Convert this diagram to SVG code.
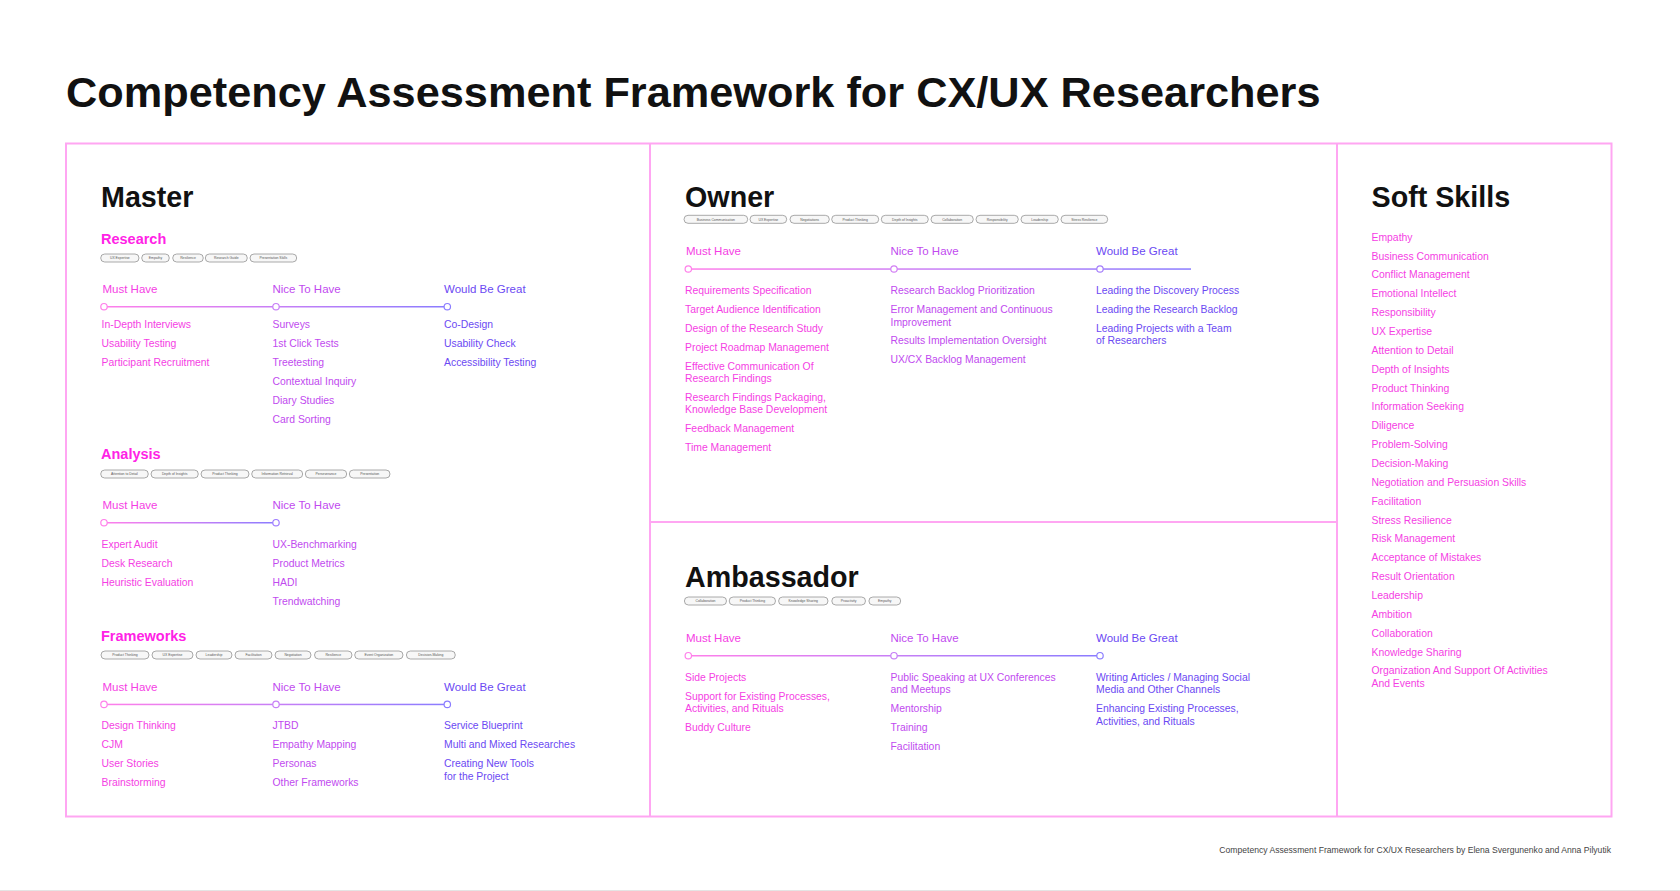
<svg xmlns="http://www.w3.org/2000/svg" width="1680" height="891" viewBox="0 0 1680 891">
<defs>
<linearGradient id="tl" x1="0" y1="0" x2="1" y2="0">
<stop offset="0" stop-color="#FF7FEA"/>
<stop offset="0.5" stop-color="#C77FF6"/>
<stop offset="1" stop-color="#8A7CFF"/>
</linearGradient>
<style>
text{font-family:"Liberation Sans",Arial,sans-serif}
.title{font-size:43.3px;font-weight:bold;fill:#111}
.h1{font-size:28.7px;font-weight:bold;fill:#111}
.h2{font-size:14.5px;font-weight:bold;fill:#FF22E6}
.lab{font-size:11.5px}
.it{font-size:10.4px}
.c1{fill:#F53EE4}
.c2{fill:#C14AEF}
.c3{fill:#6B49F3}
.frame{fill:none;stroke:#FFA6F2;stroke-width:2}
.pill rect{fill:#F7F7F7;stroke:#8E8E8E;stroke-width:0.75}
.pill text{font-size:3.4px;fill:#555;text-anchor:middle}
.dot{fill:#fff;stroke-width:1.2}
.foot{font-size:8.6px;fill:#444;text-anchor:end}
</style>
</defs>
<rect width="1680" height="891" fill="#fff"/>
<line x1="0" y1="890.5" x2="1680" y2="890.5" stroke="#e4e4e4" stroke-width="1"/>

<g id="title"><text class="title" x="66" y="107">Competency Assessment Framework for CX/UX Researchers</text></g>

<g id="frame">
<rect class="frame" x="66" y="143.5" width="1545.5" height="673"/>
<line class="frame" x1="650" y1="143.5" x2="650" y2="816.5"/>
<line class="frame" x1="1337" y1="143.5" x2="1337" y2="816.5"/>
<line class="frame" x1="650" y1="522" x2="1337" y2="522"/>
</g>

<g id="connectors">
<rect x="104" y="306" width="343.3" height="1.5" fill="url(#tl)"/>
<circle class="dot" cx="104" cy="306.7" r="3.2" stroke="#FF7FEA"/>
<circle class="dot" cx="276" cy="306.7" r="3.2" stroke="#C77FF6"/>
<circle class="dot" cx="447.3" cy="306.7" r="3.2" stroke="#8A7CFF"/>

<rect x="104" y="522" width="172" height="1.5" fill="url(#tl)"/>
<circle class="dot" cx="104" cy="522.7" r="3.2" stroke="#FF7FEA"/>
<circle class="dot" cx="276" cy="522.7" r="3.2" stroke="#9F7CFF"/>

<rect x="104" y="703.7" width="343.3" height="1.5" fill="url(#tl)"/>
<circle class="dot" cx="104" cy="704.4" r="3.2" stroke="#FF7FEA"/>
<circle class="dot" cx="276" cy="704.4" r="3.2" stroke="#C77FF6"/>
<circle class="dot" cx="447.3" cy="704.4" r="3.2" stroke="#8A7CFF"/>

<rect x="688.3" y="268.3" width="502.7" height="1.5" fill="url(#tl)"/>
<circle class="dot" cx="688.3" cy="269" r="3.2" stroke="#FF7FEA"/>
<circle class="dot" cx="894" cy="269" r="3.2" stroke="#D27FF4"/>
<circle class="dot" cx="1100" cy="269" r="3.2" stroke="#A47DFB"/>

<rect x="688.3" y="655" width="411.7" height="1.5" fill="url(#tl)"/>
<circle class="dot" cx="688.3" cy="655.7" r="3.2" stroke="#FF7FEA"/>
<circle class="dot" cx="894" cy="655.7" r="3.2" stroke="#C77FF6"/>
<circle class="dot" cx="1100" cy="655.7" r="3.2" stroke="#8A7CFF"/>
</g>

<g id="master">
<text class="h1" x="101" y="207">Master</text>
</g>

<g id="research">
<text class="h2" x="101" y="244">Research</text>
<g class="pill">
<rect x="100.7" y="254" width="38.3" height="8" rx="4"/><text x="119.85" y="259.2">UX Expertise</text>
<rect x="141.7" y="254" width="27.6" height="8" rx="4"/><text x="155.5" y="259.2">Empathy</text>
<rect x="172.7" y="254" width="30.6" height="8" rx="4"/><text x="188" y="259.2">Resilience</text>
<rect x="205.3" y="254" width="42" height="8" rx="4"/><text x="226.3" y="259.2">Research Guide</text>
<rect x="250" y="254" width="46.7" height="8" rx="4"/><text x="273.35" y="259.2">Presentation Skills</text>
</g>
<text class="lab c1" x="102.5" y="293">Must Have</text>
<text class="lab c2" x="272.5" y="293">Nice To Have</text>
<text class="lab c3" x="444" y="293">Would Be Great</text>
<g class="it c1">
<text x="101.5" y="328.3">In-Depth Interviews</text>
<text x="101.5" y="347.3">Usability Testing</text>
<text x="101.5" y="366.3">Participant Recruitment</text>
</g>
<g class="it c2">
<text x="272.5" y="328.3">Surveys</text>
<text x="272.5" y="347.3">1st Click Tests</text>
<text x="272.5" y="366.3">Treetesting</text>
<text x="272.5" y="385.3">Contextual Inquiry</text>
<text x="272.5" y="404.3">Diary Studies</text>
<text x="272.5" y="423.3">Card Sorting</text>
</g>
<g class="it c3">
<text x="444" y="328.3">Co-Design</text>
<text x="444" y="347.3">Usability Check</text>
<text x="444" y="366.3">Accessibility Testing</text>
</g>
</g>

<g id="analysis">
<text class="h2" x="101" y="459">Analysis</text>
<g class="pill">
<rect x="100.7" y="470" width="47.6" height="8" rx="4"/><text x="124.5" y="475.2">Attention to Detail</text>
<rect x="151" y="470" width="47.3" height="8" rx="4"/><text x="174.65" y="475.2">Depth of Insights</text>
<rect x="201" y="470" width="48" height="8" rx="4"/><text x="225" y="475.2">Product Thinking</text>
<rect x="251.7" y="470" width="51" height="8" rx="4"/><text x="277.2" y="475.2">Information Retrieval</text>
<rect x="305.3" y="470" width="41.4" height="8" rx="4"/><text x="326" y="475.2">Perseverance</text>
<rect x="349.3" y="470" width="40.7" height="8" rx="4"/><text x="369.65" y="475.2">Presentation</text>
</g>
<text class="lab c1" x="102.5" y="509">Must Have</text>
<text class="lab c2" x="272.5" y="509">Nice To Have</text>
<g class="it c1">
<text x="101.5" y="548.3">Expert Audit</text>
<text x="101.5" y="567.3">Desk Research</text>
<text x="101.5" y="586.3">Heuristic Evaluation</text>
</g>
<g class="it c2">
<text x="272.5" y="548.3">UX-Benchmarking</text>
<text x="272.5" y="567.3">Product Metrics</text>
<text x="272.5" y="586.3">HADI</text>
<text x="272.5" y="605.3">Trendwatching</text>
</g>
</g>

<g id="frameworks">
<text class="h2" x="101" y="640.5">Frameworks</text>
<g class="pill">
<rect x="101" y="651" width="48" height="8" rx="4"/><text x="125" y="656.2">Product Thinking</text>
<rect x="152" y="651" width="41" height="8" rx="4"/><text x="172.5" y="656.2">UX Expertise</text>
<rect x="196" y="651" width="36" height="8" rx="4"/><text x="214" y="656.2">Leadership</text>
<rect x="235" y="651" width="37" height="8" rx="4"/><text x="253.5" y="656.2">Facilitation</text>
<rect x="275" y="651" width="36" height="8" rx="4"/><text x="293" y="656.2">Negotiation</text>
<rect x="314.5" y="651" width="37.5" height="8" rx="4"/><text x="333.25" y="656.2">Resilience</text>
<rect x="354.7" y="651" width="48.3" height="8" rx="4"/><text x="378.85" y="656.2">Event Organization</text>
<rect x="406.4" y="651" width="48.9" height="8" rx="4"/><text x="430.85" y="656.2">Decision-Making</text>
</g>
<text class="lab c1" x="102.5" y="690.8">Must Have</text>
<text class="lab c2" x="272.5" y="690.8">Nice To Have</text>
<text class="lab c3" x="444" y="690.8">Would Be Great</text>
<g class="it c1">
<text x="101.5" y="729.3">Design Thinking</text>
<text x="101.5" y="748.3">CJM</text>
<text x="101.5" y="767.3">User Stories</text>
<text x="101.5" y="786.3">Brainstorming</text>
</g>
<g class="it c2">
<text x="272.5" y="729.3">JTBD</text>
<text x="272.5" y="748.3">Empathy Mapping</text>
<text x="272.5" y="767.3">Personas</text>
<text x="272.5" y="786.3">Other Frameworks</text>
</g>
<g class="it c3">
<text x="444" y="729.3">Service Blueprint</text>
<text x="444" y="748.3">Multi and Mixed Researches</text>
<text x="444" y="767.3">Creating New Tools</text>
<text x="444" y="779.6">for the Project</text>
</g>
</g>

<g id="owner">
<text class="h1" x="685" y="207">Owner</text>
<g class="pill">
<rect x="684" y="215.3" width="63.7" height="8" rx="4"/><text x="715.85" y="220.5">Business Communication</text>
<rect x="750" y="215.3" width="36.7" height="8" rx="4"/><text x="768.35" y="220.5">UX Expertise</text>
<rect x="790" y="215.3" width="39.3" height="8" rx="4"/><text x="809.65" y="220.5">Negotiations</text>
<rect x="831.7" y="215.3" width="47" height="8" rx="4"/><text x="855.2" y="220.5">Product Thinking</text>
<rect x="881.3" y="215.3" width="47" height="8" rx="4"/><text x="904.8" y="220.5">Depth of Insights</text>
<rect x="931" y="215.3" width="42.3" height="8" rx="4"/><text x="952.15" y="220.5">Collaboration</text>
<rect x="976" y="215.3" width="42.3" height="8" rx="4"/><text x="997.15" y="220.5">Responsibility</text>
<rect x="1021" y="215.3" width="37.3" height="8" rx="4"/><text x="1039.65" y="220.5">Leadership</text>
<rect x="1061" y="215.3" width="46.7" height="8" rx="4"/><text x="1084.35" y="220.5">Stress Resilience</text>
</g>
<text class="lab c1" x="686" y="255">Must Have</text>
<text class="lab c2" x="890.5" y="255">Nice To Have</text>
<text class="lab c3" x="1096" y="255">Would Be Great</text>
<g class="it c1">
<text x="685" y="294.3">Requirements Specification</text>
<text x="685" y="313.2">Target Audience Identification</text>
<text x="685" y="332.1">Design of the Research Study</text>
<text x="685" y="351">Project Roadmap Management</text>
<text x="685" y="369.9">Effective Communication Of</text>
<text x="685" y="382.2">Research Findings</text>
<text x="685" y="401.1">Research Findings Packaging,</text>
<text x="685" y="413.4">Knowledge Base Development</text>
<text x="685" y="432.3">Feedback Management</text>
<text x="685" y="451.2">Time Management</text>
</g>
<g class="it c2">
<text x="890.5" y="294.3">Research Backlog Prioritization</text>
<text x="890.5" y="313.2">Error Management and Continuous</text>
<text x="890.5" y="325.5">Improvement</text>
<text x="890.5" y="344.4">Results Implementation Oversight</text>
<text x="890.5" y="363.3">UX/CX Backlog Management</text>
</g>
<g class="it c3">
<text x="1096" y="294.3">Leading the Discovery Process</text>
<text x="1096" y="313.2">Leading the Research Backlog</text>
<text x="1096" y="332.1">Leading Projects with a Team</text>
<text x="1096" y="344.4">of Researchers</text>
</g>
</g>

<g id="ambassador">
<text class="h1" x="685" y="587">Ambassador</text>
<g class="pill">
<rect x="684.4" y="597" width="42.1" height="8" rx="4"/><text x="705.45" y="602.2">Collaboration</text>
<rect x="729.2" y="597" width="46.3" height="8" rx="4"/><text x="752.35" y="602.2">Product Thinking</text>
<rect x="778.6" y="597" width="49.4" height="8" rx="4"/><text x="803.3" y="602.2">Knowledge Sharing</text>
<rect x="831.8" y="597" width="33.7" height="8" rx="4"/><text x="848.65" y="602.2">Proactivity</text>
<rect x="868.9" y="597" width="31.8" height="8" rx="4"/><text x="884.8" y="602.2">Empathy</text>
</g>
<text class="lab c1" x="686" y="641.5">Must Have</text>
<text class="lab c2" x="890.5" y="641.5">Nice To Have</text>
<text class="lab c3" x="1096" y="641.5">Would Be Great</text>
<g class="it c1">
<text x="685" y="681">Side Projects</text>
<text x="685" y="700">Support for Existing Processes,</text>
<text x="685" y="712.3">Activities, and Rituals</text>
<text x="685" y="731.2">Buddy Culture</text>
</g>
<g class="it c2">
<text x="890.5" y="681">Public Speaking at UX Conferences</text>
<text x="890.5" y="693.3">and Meetups</text>
<text x="890.5" y="712.2">Mentorship</text>
<text x="890.5" y="731.1">Training</text>
<text x="890.5" y="750">Facilitation</text>
</g>
<g class="it c3">
<text x="1096" y="681">Writing Articles / Managing Social</text>
<text x="1096" y="693.3">Media and Other Channels</text>
<text x="1096" y="712.2">Enhancing Existing Processes,</text>
<text x="1096" y="724.5">Activities, and Rituals</text>
</g>
</g>

<g id="soft-skills">
<text class="h1" x="1371.5" y="207">Soft Skills</text>
<g class="it c1">
<text x="1371.5" y="240.6">Empathy</text>
<text x="1371.5" y="259.5">Business Communication</text>
<text x="1371.5" y="278.3">Conflict Management</text>
<text x="1371.5" y="297.2">Emotional Intellect</text>
<text x="1371.5" y="316">Responsibility</text>
<text x="1371.5" y="334.9">UX Expertise</text>
<text x="1371.5" y="353.8">Attention to Detail</text>
<text x="1371.5" y="372.6">Depth of Insights</text>
<text x="1371.5" y="391.5">Product Thinking</text>
<text x="1371.5" y="410.3">Information Seeking</text>
<text x="1371.5" y="429.2">Diligence</text>
<text x="1371.5" y="448.1">Problem-Solving</text>
<text x="1371.5" y="466.9">Decision-Making</text>
<text x="1371.5" y="485.8">Negotiation and Persuasion Skills</text>
<text x="1371.5" y="504.6">Facilitation</text>
<text x="1371.5" y="523.5">Stress Resilience</text>
<text x="1371.5" y="542.4">Risk Management</text>
<text x="1371.5" y="561.2">Acceptance of Mistakes</text>
<text x="1371.5" y="580.1">Result Orientation</text>
<text x="1371.5" y="598.9">Leadership</text>
<text x="1371.5" y="617.8">Ambition</text>
<text x="1371.5" y="636.7">Collaboration</text>
<text x="1371.5" y="655.5">Knowledge Sharing</text>
<text x="1371.5" y="674.4">Organization And Support Of Activities</text>
<text x="1371.5" y="686.7">And Events</text>
</g>
</g>

<g id="footer"><text class="foot" x="1611" y="852.5">Competency Assessment Framework for CX/UX Researchers by Elena Svergunenko and Anna Pilyutik</text></g>
</svg>
